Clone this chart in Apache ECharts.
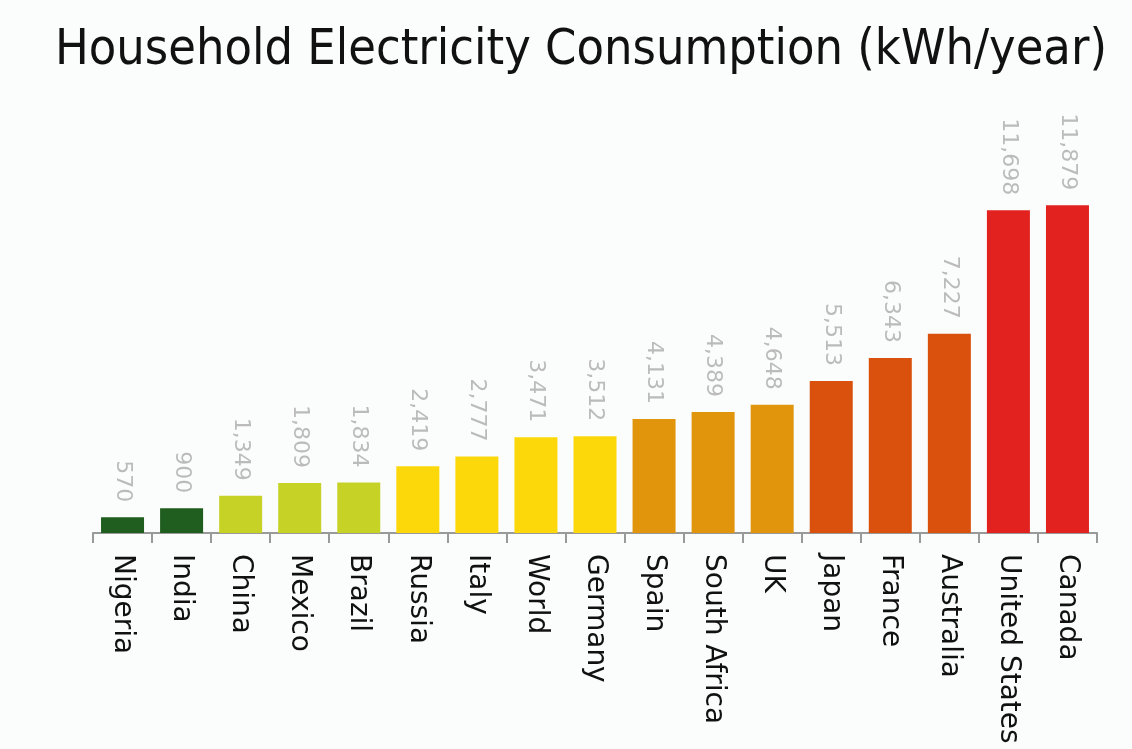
<!DOCTYPE html>
<html>
<head>
<meta charset="utf-8">
<script src="https://cdn.jsdelivr.net/npm/echarts@6/dist/echarts.min.js"></script>
<style>
  html, body { margin: 0; padding: 0; background: #ffffff; }
  #chart { width: 1132px; height: 749px; }
</style>
</head>
<body>
<div id="chart"></div>
<script>
'use strict';
const countries = ['Nigeria', 'India', 'China', 'Mexico', 'Brazil', 'Russia', 'Italy', 'World', 'Germany',
    'Spain', 'South Africa', 'UK', 'Japan', 'France', 'Australia', 'United States', 'Canada'];
const consumption = [570, 900, 1349, 1809, 1834, 2419, 2777, 3471, 3512,
    4131, 4389, 4648, 5513, 6343, 7227, 11698, 11879];
// colour group of each bar (0 = dark green ... 5 = red)
const colorGroup = [0, 0, 1, 1, 1, 2, 2, 2, 2, 3, 3, 3, 4, 4, 4, 5, 5];

const palette = ['#205e1f', '#c6d326', '#fcd80b', '#e0950d', '#d9510d', '#e2221f'];

function init() {
    const chart = echarts.init(document.getElementById('chart'));
    const option = {
        backgroundColor: '#fbfcfc',
        title: {
            text: 'Household Electricity Consumption (kWh/year)',
            left: 50,
            top: 21,
            textStyle: {
                fontFamily: '"Liberation Sans Narrow", "DejaVu Sans Condensed", sans-serif',
                fontSize: 50,
                fontWeight: 'normal',
                color: '#111',
            },
        },
        grid: {
            left: 93,
            right: 35,
            top: 202,
            bottom: 216,
            containLabel: false,
        },
        xAxis: {
            type: 'category',
            data: countries,
            axisLine: { lineStyle: { color: '#999', width: 2 } },
            axisTick: { show: true, length: 10, lineStyle: { color: '#999', width: 2 } },
            axisLabel: {
                rotate: -90,
                interval: 0,
                margin: 21,
                color: '#111',
                fontSize: 28,
                fontFamily: '"DejaVu Sans", sans-serif',
            },
        },
        yAxis: {
            type: 'value',
            min: 0,
            max: 12000,
            show: false,
            splitLine: { show: false },
        },
        series: [
            {
                type: 'bar',
                barWidth: 43,
                data: consumption.map((v, i) => ({
                    value: v,
                    itemStyle: { color: palette[colorGroup[i]] },
                })),
                label: {
                    show: true,
                    position: 'top',
                    distance: 15,
                    rotate: -90,
                    align: 'right',
                    verticalAlign: 'middle',
                    color: '#bbb',
                    fontSize: 22,
                    fontFamily: '"DejaVu Sans", sans-serif',
                    formatter: (p) => p.value.toLocaleString('en-US'),
                },
            },
        ],
    };
    chart.setOption(option);
}

init();
</script>
</body>
</html>
